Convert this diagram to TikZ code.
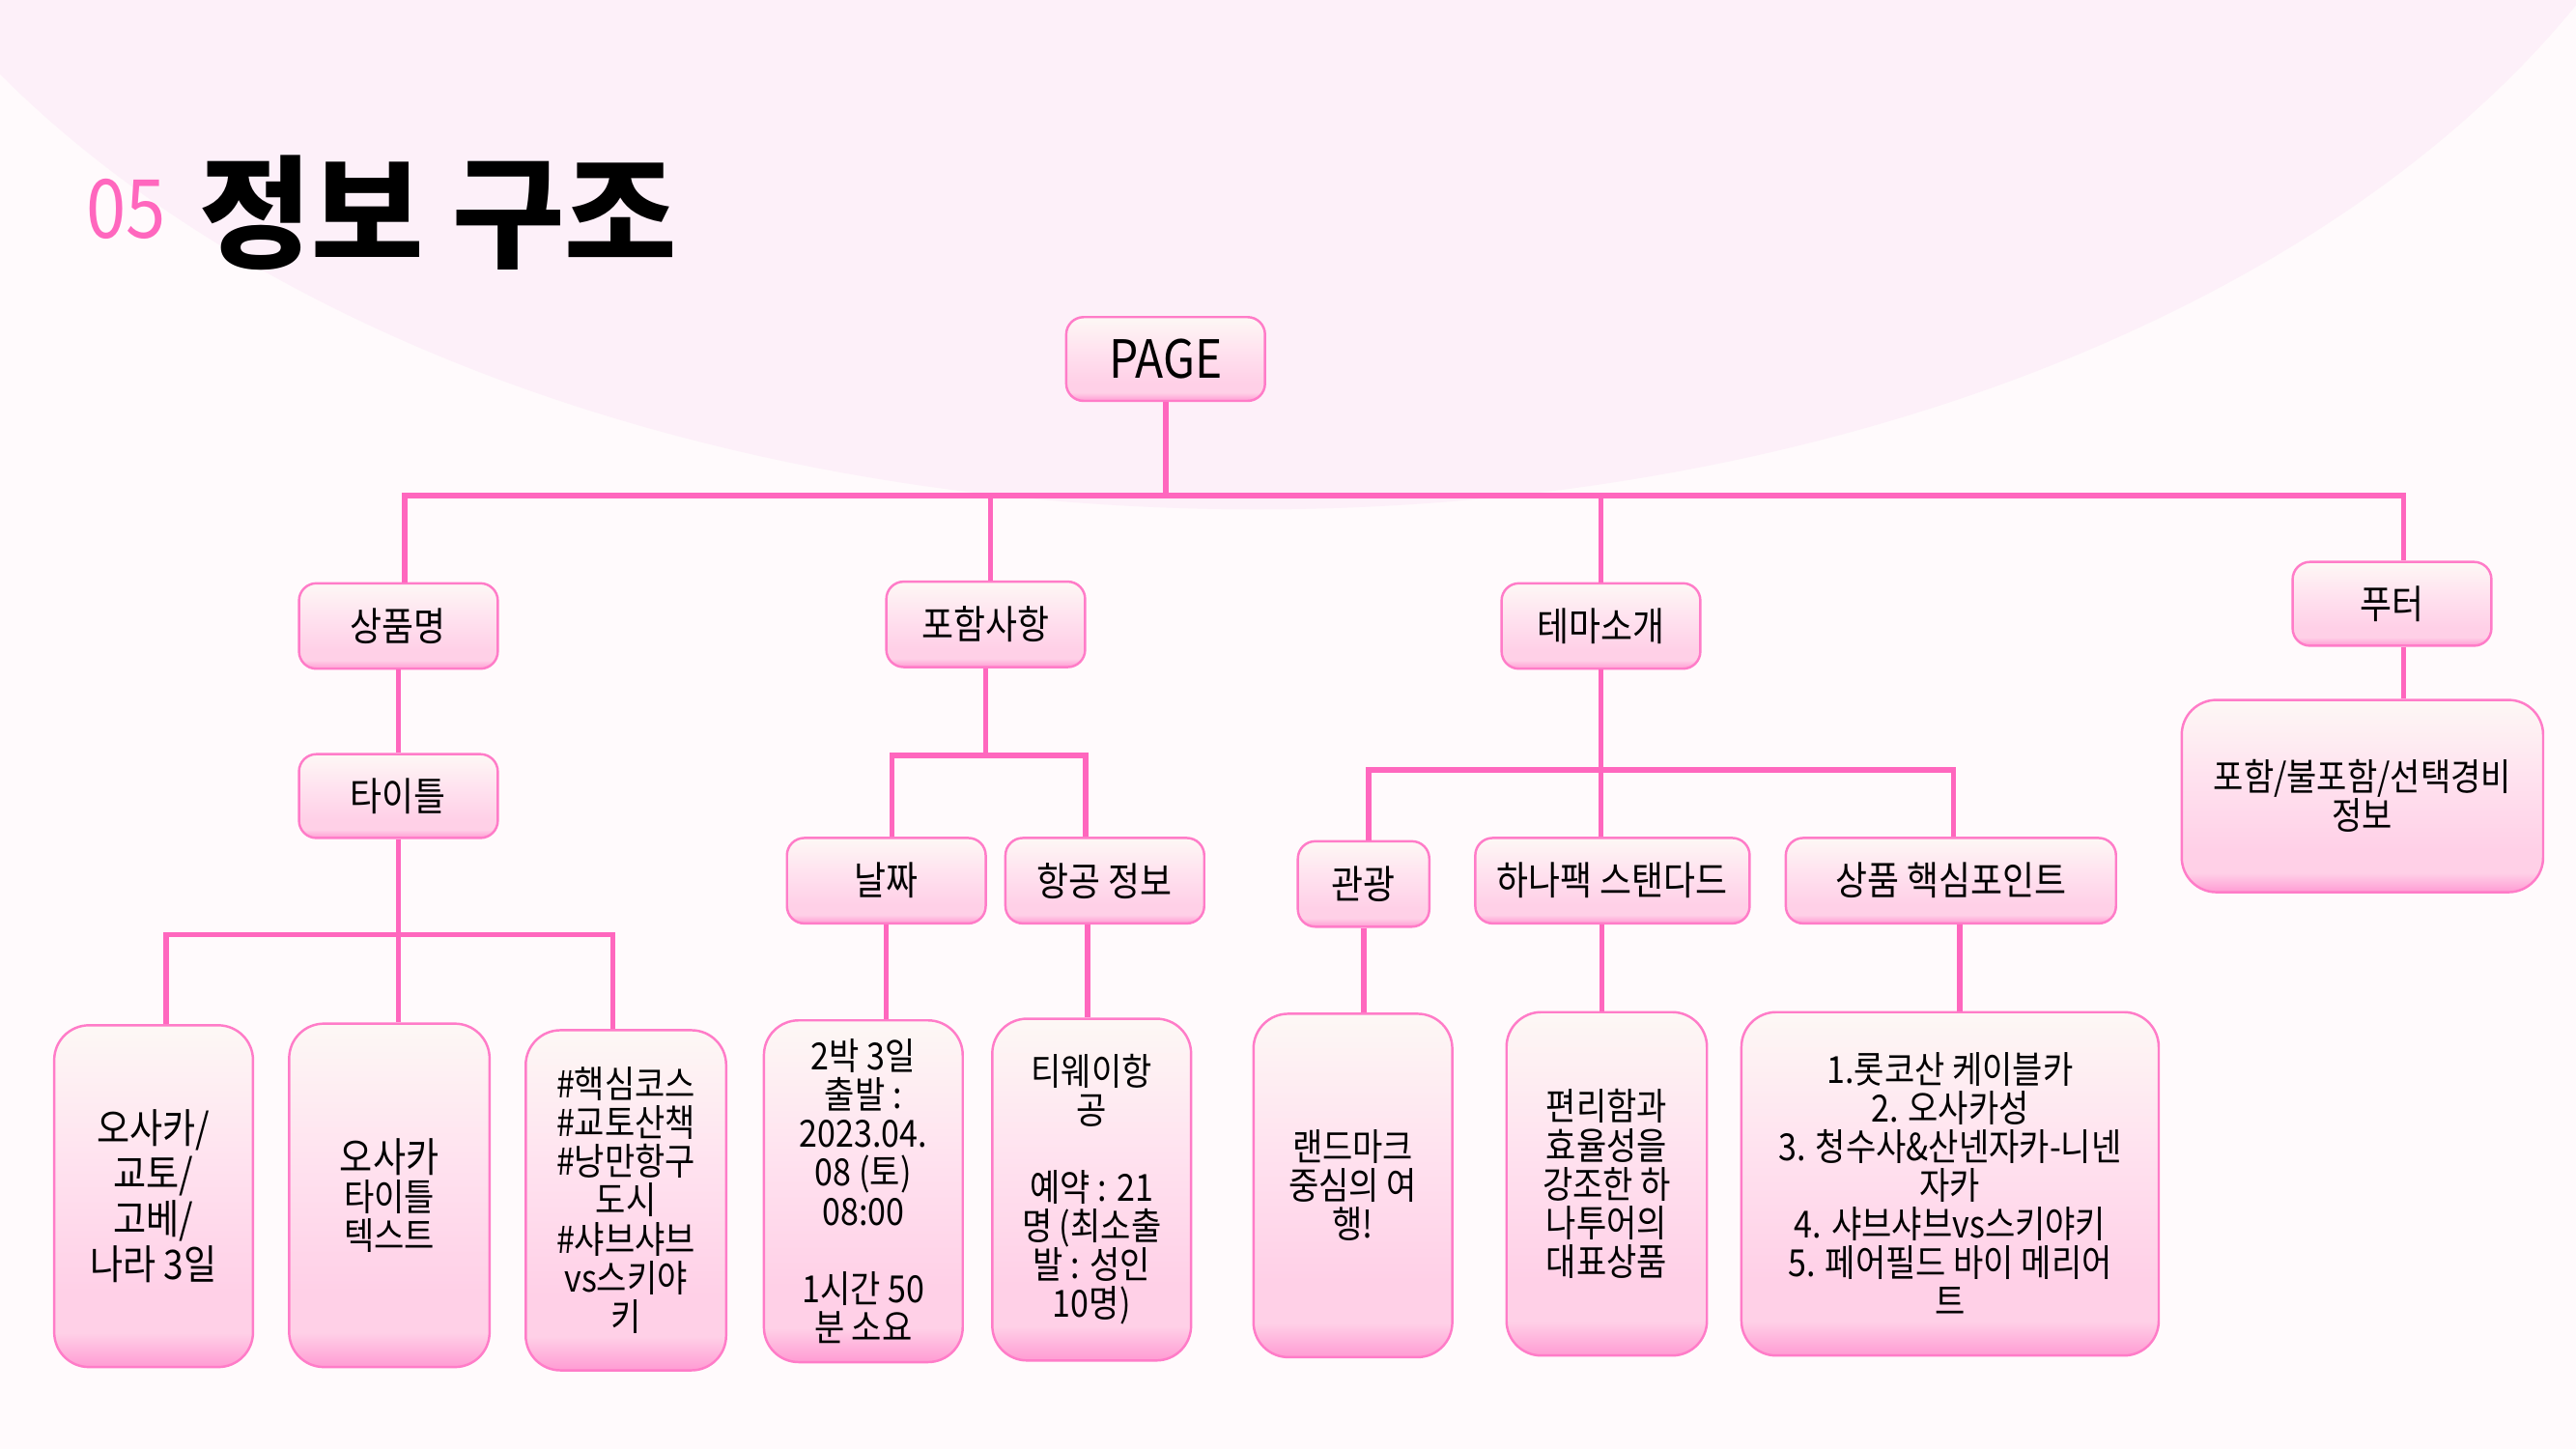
\documentclass[tikz,border=0pt]{standalone}
\usepackage{fontspec}
\setmainfont{Noto Sans CJK KR}[FakeStretch=0.88]
\newfontfamily\headfont{Noto Sans CJK KR}
\usetikzlibrary{positioning}

\definecolor{linepink}{HTML}{FF67BE}
\definecolor{edgepink}{HTML}{FF7CC8}
\definecolor{bgpink}{HTML}{FFFAFC}
\definecolor{ovalpink}{HTML}{FDF0F9}
\definecolor{fadetop}{HTML}{FDF8F5}
\definecolor{fademid}{HTML}{FFE2EF}
\definecolor{fadelow}{HTML}{FFD0E7}
\definecolor{fadebot}{HTML}{FF9BD3}

\pgfdeclareverticalshading{boxfade}{100bp}{color(0bp)=(fadebot); color(25bp)=(fadebot);
  color(30bp)=(fadelow); color(36bp)=(fadelow); color(55bp)=(fademid);
  color(75bp)=(fadetop); color(100bp)=(fadetop)}

\newcommand\pxu{0.0170089cm}

\begin{document}
\begin{tikzpicture}[x=\pxu, y=-\pxu,
    box/.style={draw=edgepink, line width=0.7pt, shading=boxfade, inner sep=0pt, align=center},
    sz/.style 2 args={minimum width=#1*\pxu, minimum height=#2*\pxu},
    lvl/.style={box, rounded corners=0.18cm, sz={121}{52}, font=\fontsize{11.6}{14}\selectfont},
    leaf/.style={box, rounded corners=0.36cm, sz={121}{208}, font=\fontsize{11}{11.4}\selectfont},
    link/.style={draw=linepink, line width=1.6pt}]

  % background
  \useasboundingbox (0,0) rectangle (1568,882);
  \fill[bgpink] (0,0) rectangle (1568,882);
  \begin{scope}
    \clip (0,0) rectangle (1568,882);
    \fill[ovalpink] (765,-250) ellipse [x radius=900, y radius=560];
  \end{scope}

  % heading
  \node[anchor=base west, inner sep=0pt, text=linepink, font=\fontsize{24}{24}\selectfont] (num) at (52,145) {05};
  \node[anchor=base west, inner sep=0pt, font=\fontsize{36}{36}\headfont\bfseries] (head) at (121,157) {정보 구조};

  % tree
  \node[lvl, sz={121}{51}, font=\fontsize{15.5}{16}\selectfont] (page) at (709.5,218.5) {PAGE};
  \node[lvl] (sang) at (242.5,381) {상품명};
  \node[lvl] (incl) at (600,380) {포함사항};
  \node[lvl] (theme) at (974.5,381) {테마소개};
  \node[lvl, sz={121}{51}] (foot) at (1456,367.5) {푸터};
  \node[lvl, sz={121}{51}] (tit) at (242.5,484.5) {타이틀};
  \node[lvl] (date) at (539.5,536) {날짜};
  \node[lvl] (flight) at (672.5,536) {항공 정보};
  \node[lvl, sz={80}{52}] (tour) at (830,538) {관광};
  \node[lvl, sz={167}{52}] (hana) at (981.5,536) {하나팩 스탠다드};
  \node[lvl, sz={201}{52}] (point) at (1187.5,536) {상품 핵심포인트};

  \node[leaf, font=\fontsize{12}{13.4}\selectfont] (boxa) at (93.5,728) {오사카/\\교토/\\고베/\\나라 3일};
  \node[leaf, sz={122}{209}] (boxb) at (237,727.5) {{\fontsize{12}{13}\selectfont 오사카}\\타이틀\\텍스트};
  \node[leaf, sz={122}{207}] (boxc) at (381,730.5) {\#핵심코스\\\#교토산책\\\#낭만항구\\도시\\\#샤브샤브\\vs스키야\\키};
  \node[leaf] (boxd) at (525.5,725) {2박 3일\\출발 :\\2023.04.\\08 (토)\\08:00\\[11.4pt]1시간 50\\분 소요};
  \node[leaf] (boxe) at (664.5,724) {티웨이항\\공\\[11.4pt]예약 : 21\\명 (최소출\\발 : 성인\\10명)};
  \node[leaf, sz={121}{209}] (boxf) at (823.5,721.5) {랜드마크\\중심의 여\\행!};
  \node[leaf, sz={122}{209}] (boxg) at (978,720.5) {편리함과\\효율성을\\강조한 하\\나투어의\\대표상품};
  \node[leaf, sz={254}{209}] (boxh) at (1187,720.5) {1.롯코산 케이블카\\2. 오사카성\\3. 청수사\&산넨자카-니넨\\자카\\4. 샤브샤브vs스키야키\\5. 페어필드 바이 메리어\\트};
  \node[leaf, sz={220}{117}] (boxi) at (1438,484.5) {포함/불포함/선택경비\\정보};

  % connectors
  \draw[link] (page.south) -- ++(0,57) coordinate (bus);
  \draw[link] ([xshift=4*\pxu]sang.north) |- (bus) -| ([xshift=7*\pxu]foot.north);
  \draw[link] ([xshift=3*\pxu]incl.north) -- ([xshift=3*\pxu]incl.north |- bus);
  \draw[link] (theme.north) -- (theme.north |- bus);

  \draw[link] (sang) -- (tit);
  \draw[link] (tit.south) -- ++(0,58) coordinate (tbus);
  \draw[link] ([xshift=7.5*\pxu]boxa.north) |- (tbus) -| ([xshift=-8*\pxu]boxc.north);
  \draw[link] (tbus) -- (tbus |- boxb.north);

  \draw[link] (incl.south) -- ++(0,53) coordinate (ibus);
  \draw[link] ([xshift=3.5*\pxu]date.north) |- (ibus) -| ([xshift=-11.5*\pxu]flight.north);
  \draw[link] (date.south) -- (date.south |- boxd.north);
  \draw[link] ([xshift=-10.5*\pxu]flight.south) -- ([xshift=-10.5*\pxu]flight.south |- boxe.north);

  \draw[link] (theme.south) -- ++(0,61) coordinate (mbus);
  \draw[link] ([xshift=3*\pxu]tour.north) |- (mbus) -| ([xshift=1.5*\pxu]point.north);
  \draw[link] (mbus) -- (mbus |- hana.north);
  \draw[link] (tour.south) -- (tour.south |- boxf.north);
  \draw[link] ([xshift=-6.5*\pxu]hana.south) -- ([xshift=-6.5*\pxu]hana.south |- boxg.north);
  \draw[link] ([xshift=5.5*\pxu]point.south) -- ([xshift=5.5*\pxu]point.south |- boxh.north);

  \draw[link] ([xshift=7*\pxu]foot.south) -- ([xshift=7*\pxu]foot.south |- boxi.north);
\end{tikzpicture}
\end{document}
